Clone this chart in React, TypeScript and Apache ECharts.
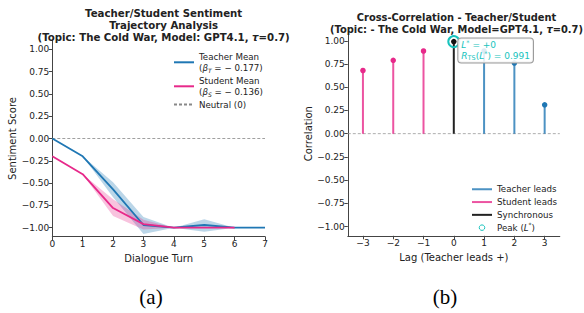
import React, { useEffect, useRef } from "react";
import * as echarts from "echarts";

// ---------- data ----------
const turns = [0, 1, 2, 3, 4, 5, 6, 7];
const teacherMean = [0, -0.2, -0.57, -0.97, -1.0, -0.97, -1.0, -1.0];
const teacherLower = [0, -0.2, -0.66, -1.07, -1.0, -1.045, -1.0, -1.0];
const teacherUpper = [0, -0.2, -0.49, -0.88, -1.0, -0.905, -1.0, -1.0];

const studentTurns = [0, 1, 2, 3, 4, 5, 6];
const studentMean = [-0.2, -0.4, -0.78, -0.96, -1.0, -1.0, -1.0];
const studentLower = [-0.2, -0.4, -0.87, -1.02, -1.0, -1.0, -1.0];
const studentUpper = [-0.2, -0.4, -0.68, -0.91, -1.0, -1.0, -1.0];

const neutralX = [0, 7];
const annotX = [0.1, 0.1, 0.1];
const annotY = [0.98, 0.05, -0.945];
const annotText = ["Positive", "Neutral", "Negative"];

const lags = [-3, -2, -1, 0, 1, 2, 3];
const correlations = [0.68, 0.79, 0.89, 0.991, 0.89, 0.76, 0.31];
const peakLag = 0;
const peakValue = 0.991;
const zeroLineX = [-3.5, 3.5];

const yTicks = { min: -1, max: 1, step: 0.25 };

// ---------- styles ----------
const FONT = "DejaVu Sans";
const TEXT = "#222";
const AXIS = "#444";
const BLUE = "#1f77b4";
const PINK = "#e7298a";
const CYAN = "#17c3bd";

const fmt2 = (v: number) => {
  const s = Math.abs(v).toFixed(2);
  return v < -1e-9 ? "\u2212" + s : s;
};
const fmtInt = (v: number) => (v < 0 ? "\u2212" + Math.abs(v) : String(v));

function bandSeries(xs: number[], lo: number[], hi: number[], color: string, z: number) {
  return {
    type: "custom",
    xAxisIndex: 0,
    yAxisIndex: 0,
    silent: true,
    z,
    data: [0],
    renderItem: (_p: any, api: any) => {
      const pts: number[][] = [];
      xs.forEach((x, i) => pts.push(api.coord([x, hi[i]])));
      for (let i = xs.length - 1; i >= 0; i--) pts.push(api.coord([xs[i], lo[i]]));
      return { type: "polygon", shape: { points: pts }, style: { fill: color } };
    },
  };
}

function stems(filter: (l: number) => boolean) {
  const out: any[] = [];
  lags.forEach((l, i) => {
    if (filter(l)) {
      out.push([l, 0], [l, correlations[i]], [l, "-"]);
    }
  });
  return out;
}
function tops(filter: (l: number) => boolean) {
  return lags.map((l, i) => [l, correlations[i]]).filter((p) => filter(p[0]));
}

function titleStyle(size: number) {
  return {
    fontFamily: FONT, fontSize: size, fontWeight: "bold", color: TEXT, lineHeight: 11.7,
    rich: { i: { fontFamily: FONT, fontSize: size, fontStyle: "italic", fontWeight: "bold", color: TEXT, lineHeight: 11.7 } },
  };
}

export default function App() {
  const ref = useRef<HTMLDivElement>(null);
  useEffect(() => {
    document.body.style.margin = "0";
    const chart = echarts.init(ref.current!, null, { renderer: "svg" });

    // geometry
    const L = { left: 52.3, right: 265, top: 40.4, bottom: 236.6 };
    const Ly1 = 49.3, LyM1 = 227.7;
    const R = { left: 347.8, right: 559.8, top: 31.5, bottom: 235.8 };
    const Ry1 = 40.8, RyM1 = 226.5;
    const Rx3 = 363, Rx3p = 544.7;

    const tickLabel = { fontFamily: FONT, fontSize: 9, color: TEXT };
    const axisName = { fontFamily: FONT, fontSize: 10, color: TEXT };
    const legendText = {
      fontFamily: FONT,
      fontSize: 8.7,
      color: TEXT,
      lineHeight: 11.5,
      rich: {
        b: { fontFamily: FONT, fontSize: 8.7, fontStyle: "italic", color: TEXT, lineHeight: 11.5 },
        s: { fontFamily: FONT, fontSize: 6, fontStyle: "italic", color: TEXT, lineHeight: 11.5, verticalAlign: "bottom" },
        i: { fontFamily: FONT, fontSize: 8.7, fontStyle: "italic", color: TEXT, lineHeight: 11.5 },
        sup: { fontFamily: FONT, fontSize: 6, color: TEXT, lineHeight: 11.5, verticalAlign: "top" },
      },
    };
    const hideSym = { opacity: 0 };

    const option: any = {
      animation: false,
      backgroundColor: "#fff",
      title: [
        {
          text: "Teacher/Student Sentiment\nTrajectory Analysis\n(Topic: The Cold War, Model: GPT4.1, {i|\u03c4}=0.7)",
          left: (L.left + L.right) / 2,
          top: 3,
          textAlign: "center",
          textStyle: titleStyle(10.2),
        },
        {
          text: "Cross-Correlation - Teacher/Student\n(Topic: - The Cold War, Model=GPT4.1, {i|\u03c4}=0.7)",
          left: 451.5,
          top: 6.5,
          textAlign: "center",
          textStyle: titleStyle(9.9),
        },
        {
          text: "(a)", left: 146, top: 281, textAlign: "center",
          textStyle: { fontFamily: "Liberation Serif", fontSize: 21, fontWeight: "normal", color: "#000" },
        },
        {
          text: "(b)", left: 440, top: 281, textAlign: "center",
          textStyle: { fontFamily: "Liberation Serif", fontSize: 21, fontWeight: "normal", color: "#000" },
        },
      ],
      grid: [
        { left: L.left, top: L.top, width: L.right - L.left, height: L.bottom - L.top },
        { left: L.left, top: Ly1, width: L.right - L.left, height: LyM1 - Ly1 },
        { left: R.left, top: R.top, width: R.right - R.left, height: R.bottom - R.top },
        { left: R.left, top: Ry1, width: R.right - R.left, height: RyM1 - Ry1 },
        { left: Rx3, top: R.top, width: Rx3p - Rx3, height: R.bottom - R.top },
      ],
      xAxis: [
        {
          gridIndex: 0, type: "value", min: 0, max: 7, interval: 1,
          axisLine: { show: true, onZero: false, lineStyle: { color: AXIS, width: 1 } },
          axisTick: { show: true, length: 3.5, lineStyle: { color: AXIS } },
          axisLabel: { ...tickLabel, margin: 3 },
          splitLine: { show: false },
          name: "Dialogue Turn", nameLocation: "middle", nameGap: 15, nameTextStyle: axisName,
        },
        { gridIndex: 1, type: "value", min: 0, max: 7, show: false },
        {
          gridIndex: 2, type: "value", min: zeroLineX[0], max: zeroLineX[1],
          axisLine: { show: true, onZero: false, lineStyle: { color: AXIS, width: 1 } },
          axisTick: { show: false }, axisLabel: { show: false }, splitLine: { show: false },
        },
        { gridIndex: 3, type: "value", min: -3, max: 3, show: false },
        {
          gridIndex: 4, type: "value", min: -3, max: 3, interval: 1,
          axisLine: { show: false, onZero: false },
          axisTick: { show: true, length: 3.5, lineStyle: { color: AXIS } },
          axisLabel: { ...tickLabel, margin: 3, formatter: fmtInt },
          splitLine: { show: false },
          name: "Lag (Teacher leads +)", nameLocation: "middle", nameGap: 15, nameTextStyle: axisName,
        },
      ],
      yAxis: [
        {
          gridIndex: 0, type: "value", min: -1.1, max: 1.1,
          axisLine: { show: true, onZero: false, lineStyle: { color: AXIS, width: 1 } },
          axisTick: { show: false }, axisLabel: { show: false }, splitLine: { show: false },
        },
        {
          gridIndex: 1, type: "value", min: yTicks.min, max: yTicks.max, interval: yTicks.step,
          axisLine: { show: false, onZero: false },
          axisTick: { show: true, length: 3.5, lineStyle: { color: AXIS } },
          axisLabel: { ...tickLabel, margin: 3, formatter: fmt2 },
          splitLine: { show: false },
          name: "Sentiment Score", nameLocation: "middle", nameGap: 34, nameTextStyle: axisName,
        },
        {
          gridIndex: 2, type: "value", min: -1.1, max: 1.1,
          axisLine: { show: true, onZero: false, lineStyle: { color: AXIS, width: 1 } },
          axisTick: { show: false }, axisLabel: { show: false }, splitLine: { show: false },
        },
        {
          gridIndex: 3, type: "value", min: yTicks.min, max: yTicks.max, interval: yTicks.step,
          axisLine: { show: false, onZero: false },
          axisTick: { show: true, length: 3.5, lineStyle: { color: AXIS } },
          axisLabel: { ...tickLabel, margin: 3, formatter: fmt2 },
          splitLine: { show: false },
          name: "Correlation", nameLocation: "middle", nameGap: 34, nameTextStyle: axisName,
        },
        { gridIndex: 4, type: "value", min: -1.1, max: 1.1, show: false },
      ],
      legend: [
        {
          orient: "vertical", left: 168, top: 45.8, itemWidth: 20, itemHeight: 8, itemGap: 1,
          data: [
            { name: "Teacher Mean", itemStyle: hideSym },
            { name: "Student Mean", itemStyle: hideSym },
            { name: "Neutral (0)", itemStyle: hideSym },
          ],
          textStyle: legendText,
          formatter: (name: string) => {
            if (name === "Teacher Mean") return "Teacher Mean\n({b|\u03b2}{s|T} = \u2212 0.177)";
            if (name === "Student Mean") return "Student Mean\n({b|\u03b2}{s|S} = \u2212 0.136)";
            return name;
          },
          selectedMode: false,
        },
        {
          orient: "vertical", left: 466, top: 178.5, itemWidth: 20, itemHeight: 5.5, itemGap: 1.3,
          data: [
            { name: "Teacher leads", itemStyle: hideSym },
            { name: "Student leads", itemStyle: hideSym },
            { name: "Synchronous", itemStyle: hideSym },
            { name: "Peak (L*)", itemStyle: { borderWidth: 1 } },
          ],
          textStyle: legendText,
          formatter: (name: string) => (name === "Peak (L*)" ? "Peak ({i|L}{sup|*})" : name),
          selectedMode: false,
        },
      ],
      series: [
        bandSeries(turns, teacherLower, teacherUpper, "rgba(31,119,180,0.3)", 1),
        bandSeries(studentTurns, studentLower, studentUpper, "rgba(231,41,138,0.28)", 1),
        {
          name: "Neutral (0)", type: "line", xAxisIndex: 0, yAxisIndex: 0, z: 2,
          data: neutralX.map((x) => [x, 0]), symbol: "none",
          lineStyle: { color: "#888", width: 0.8, type: [3, 2] }, itemStyle: { color: "#888" },
        },
        {
          name: "Teacher Mean", type: "line", xAxisIndex: 0, yAxisIndex: 0, z: 3,
          data: turns.map((t, i) => [t, teacherMean[i]]), symbol: "none",
          lineStyle: { color: BLUE, width: 1.8 }, itemStyle: { color: BLUE },
        },
        {
          name: "Student Mean", type: "line", xAxisIndex: 0, yAxisIndex: 0, z: 4,
          data: studentTurns.map((t, i) => [t, studentMean[i]]), symbol: "none",
          lineStyle: { color: PINK, width: 1.8 }, itemStyle: { color: PINK },
        },
        {
          name: "annot", type: "scatter", xAxisIndex: 0, yAxisIndex: 0, z: 5, silent: true,
          data: annotX.map((x, i) => [x, annotY[i], annotText[i]]),
          symbolSize: 1, itemStyle: { opacity: 0 },
          label: {
            show: true, position: "right", distance: 0,
            formatter: (p: any) => p.value[2],
            fontFamily: FONT, fontSize: 9, color: TEXT,
          },
        },
        // right panel
        {
          name: "zero", type: "line", xAxisIndex: 2, yAxisIndex: 2, z: 1,
          data: zeroLineX.map((x) => [x, 0]), symbol: "none",
          lineStyle: { color: "#999", width: 0.8, type: [3, 2] },
        },
        {
          name: "Student leads", type: "line", xAxisIndex: 2, yAxisIndex: 2, z: 2,
          data: stems((l) => l < 0), symbol: "none", connectNulls: false,
          lineStyle: { color: "rgba(231,41,138,0.8)", width: 2 }, itemStyle: { color: "rgba(231,41,138,0.8)" },
        },
        {
          name: "Teacher leads", type: "line", xAxisIndex: 2, yAxisIndex: 2, z: 2,
          data: stems((l) => l > 0), symbol: "none", connectNulls: false,
          lineStyle: { color: "rgba(31,119,180,0.8)", width: 2 }, itemStyle: { color: "rgba(31,119,180,0.8)" },
        },
        {
          name: "Synchronous", type: "line", xAxisIndex: 2, yAxisIndex: 2, z: 2,
          data: stems((l) => l === 0), symbol: "none", connectNulls: false,
          lineStyle: { color: "#222", width: 2 }, itemStyle: { color: "#222" },
        },
        {
          name: "studentTops", type: "scatter", xAxisIndex: 2, yAxisIndex: 2, z: 3,
          data: tops((l) => l < 0), symbolSize: 5.5, itemStyle: { color: PINK, opacity: 1 },
        },
        {
          name: "teacherTops", type: "scatter", xAxisIndex: 2, yAxisIndex: 2, z: 3,
          data: tops((l) => l > 0), symbolSize: 5.5, itemStyle: { color: BLUE, opacity: 1 },
        },
        {
          name: "syncTops", type: "scatter", xAxisIndex: 2, yAxisIndex: 2, z: 3,
          data: tops((l) => l === 0), symbolSize: 5.5, itemStyle: { color: "#111", opacity: 1 },
        },
        {
          name: "Peak (L*)", type: "scatter", xAxisIndex: 2, yAxisIndex: 2, z: 6,
          data: [[peakLag, peakValue]], symbolSize: 11,
          itemStyle: { color: "rgba(0,0,0,0)", borderColor: CYAN, borderWidth: 2, opacity: 1 },
          label: {
            show: true, position: [11, 3.5], align: "left", verticalAlign: "top",
            formatter: "{i|L}{sup|*} = +0\n{i|R}{sub|TS}({i|L}{sup|*}) = 0.991",
            fontFamily: FONT, fontSize: 9, color: CYAN, lineHeight: 11,
            backgroundColor: "rgba(255,255,255,0.85)", borderColor: "#999", borderWidth: 1, borderRadius: 3,
            padding: [1, 3, 1, 3],
            rich: {
              i: { fontFamily: FONT, fontSize: 9, fontStyle: "italic", color: CYAN, lineHeight: 11 },
              sup: { fontFamily: FONT, fontSize: 6.5, color: CYAN, lineHeight: 11, verticalAlign: "top" },
              sub: { fontFamily: FONT, fontSize: 6.5, color: CYAN, lineHeight: 11, verticalAlign: "bottom" },
            },
          },
        },
      ],
    };
    chart.setOption(option);
    return () => chart.dispose();
  }, []);
  return <div ref={ref} style={{ width: 584, height: 313 }} />;
}
